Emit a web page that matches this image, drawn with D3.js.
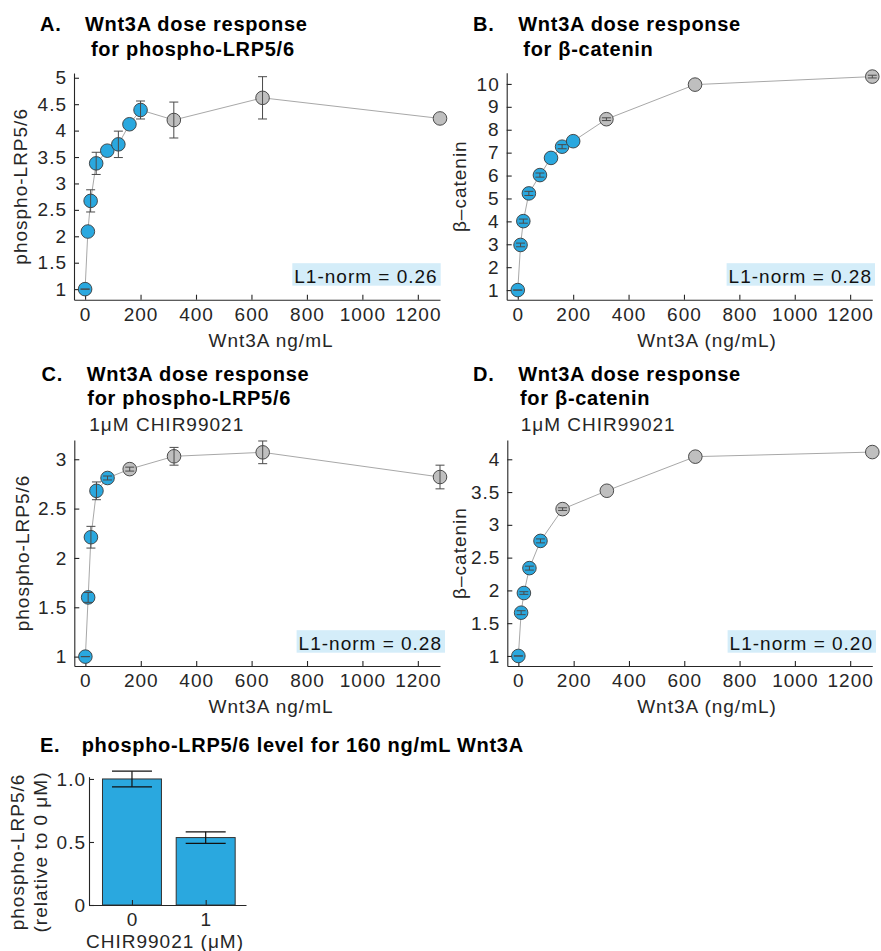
<!DOCTYPE html>
<html>
<head>
<meta charset="utf-8">
<script src="https://cdn.jsdelivr.net/npm/d3@7"></script>
<style>
  body { margin: 0; background: #fff; }
  svg { display: block; }
  text { font-family: "Liberation Sans", Arial, sans-serif; }
</style>
</head>
<body>
<svg id="fig" width="881" height="951"></svg>
<script>
// doses (ng/mL Wnt3A)
const doseFull = [0, 10, 20, 40, 80, 120, 160, 200, 320, 640, 1280];
const doseChir = [0, 10, 20, 40, 80, 160, 320, 640, 1280];

// A. phospho-LRP5/6, no inhibitor
const pLrp = [1.0, 2.09, 2.67, 3.38, 3.62, 3.74, 4.12, 4.39, 4.2, 4.62, 4.23];
const pLrpErr = [0, null, 0.21, 0.21, null, 0.25, null, 0.17, 0.34, 0.4, null];
// B. beta-catenin, no inhibitor
const bCat = [1.0, 2.97, 4.01, 5.22, 6.02, 6.77, 7.26, 7.5, 8.46, 9.97, 10.32];
const bCatErr = [0, 0.08, 0.09, 0.09, 0.09, null, 0.09, null, 0.06, null, 0.06];
// C. phospho-LRP5/6, 1uM CHIR99021
const pLrpChir = [1.0, 1.6, 2.21, 2.68, 2.81, 2.9, 3.03, 3.07, 2.82];
const pLrpChirErr = [0, 0.05, 0.11, 0.09, 0.02, 0.02, 0.09, 0.115, 0.12];
// D. beta-catenin, 1uM CHIR99021
const bCatChir = [1.0, 1.66, 1.96, 2.34, 2.755, 3.24, 3.52, 4.04, 4.11];
const bCatChirErr = [0, 0.03, 0.02, 0.03, 0.03, 0.02, null, null, null];

// last dose used for the fit (blue markers) in each panel
const fitCutoff = [200, 200, 80, 80];
const l1Norm = ["0.26", "0.28", "0.28", "0.20"];
const doseTicks = [0, 200, 400, 600, 800, 1000, 1200];

// E. bars
const chirConc = [0, 1];
const chirLevel = [1.0, 0.535];
const chirLevelErr = [0.062, 0.046];

const BLUE = "#2aa8df", GREY = "#bfbfbf", EDGE = "#3a3a3a", AX = "#262626";
const FONT = 19;

const svg = d3.select("#fig");

function title(lines, lx, letter, x0s, ys) {
  svg.append("text").attr("x", lx).attr("y", ys[0])
    .attr("font-size", 20).attr("font-weight", "bold")
    .style("letter-spacing", "0.7px").text(letter);
  lines.forEach((l, i) => {
    svg.append("text").attr("x", x0s[i]).attr("y", ys[i])
      .attr("font-size", l.bold ? 20 : FONT)
      .attr("font-weight", l.bold ? "bold" : "normal")
      .style("letter-spacing", l.bold ? "0.7px" : "1px")
      .attr("fill", l.bold ? "#000" : AX)
      .text(l.t);
  });
}

function styleAxis(g) {
  g.attr("font-size", FONT).attr("font-family", null);
  g.selectAll("path.domain").attr("stroke", AX).attr("stroke-width", 1.1);
  g.selectAll(".tick line").attr("stroke", AX).attr("stroke-width", 1.1);
  g.selectAll(".tick text").attr("fill", AX).style("letter-spacing", "1px");
}

function dosePanel(p) {
  const x = d3.scaleLinear().domain([-40, 1280]).range([p.left, p.right]);
  const y = d3.scaleLinear().domain(p.yDomain).range([p.bottom, p.top]);

  const gx = svg.append("g").attr("transform", `translate(0,${p.bottom})`)
    .call(d3.axisBottom(x).tickValues(doseTicks).tickFormat(d3.format("d"))
      .tickSizeInner(-5).tickSizeOuter(0).tickPadding(8));
  styleAxis(gx);
  const gy = svg.append("g").attr("transform", `translate(${p.left},0)`)
    .call(d3.axisLeft(y).tickValues(p.yTicks).tickFormat(d3.format(""))
      .tickSizeInner(-5).tickSizeOuter(0).tickPadding(7));
  styleAxis(gy);

  // labels
  svg.append("text").attr("x", p.xLabelX).attr("y", p.bottom + 47)
    .attr("text-anchor", "middle").attr("font-size", FONT).attr("fill", AX)
    .style("letter-spacing", "1px").text(p.xLabel);
  svg.append("text")
    .attr("transform", `translate(${p.yLabelX},${(p.top + p.bottom) / 2}) rotate(-90)`)
    .attr("text-anchor", "middle").attr("font-size", FONT).attr("fill", AX)
    .style("letter-spacing", "1px").text(p.yLabel);

  // L1-norm box
  const lg = svg.append("g");
  const lt = lg.append("text").attr("x", p.boxRight - 3).attr("y", p.boxBottom - 3)
    .attr("text-anchor", "end").attr("font-size", FONT).attr("fill", "#111")
    .style("letter-spacing", "1px").text("L1-norm = " + p.l1);
  const bb = lt.node().getBBox();
  lg.insert("rect", "text").attr("x", bb.x - 2).attr("y", p.boxBottom - 22.5)
    .attr("width", p.boxRight - bb.x + 2).attr("height", 22.5).attr("fill", "#d4edf9");

  const pts = p.dose.map((d, i) => ({ d, v: p.vals[i], e: p.errs[i] }));

  svg.append("path").datum(pts)
    .attr("d", d3.line().x(q => x(q.d)).y(q => y(q.v)))
    .attr("fill", "none").attr("stroke", "#a8a8a8").attr("stroke-width", 1);

  svg.append("g").selectAll("circle").data(pts).join("circle")
    .attr("cx", q => x(q.d)).attr("cy", q => y(q.v)).attr("r", 6.8)
    .attr("fill", q => q.d <= p.cutoff ? BLUE : GREY)
    .attr("stroke", EDGE).attr("stroke-width", 0.9);

  // error bars on top
  const eb = svg.append("g").attr("stroke", "#4a4a4a").attr("stroke-width", 1);
  pts.filter(q => q.e !== null).forEach(q => {
    const cx = x(q.d), y1 = y(q.v + q.e), y0 = y(q.v - q.e);
    eb.append("line").attr("x1", cx).attr("x2", cx).attr("y1", y1).attr("y2", y0);
    eb.append("line").attr("x1", cx - 4.5).attr("x2", cx + 4.5).attr("y1", y1).attr("y2", y1);
    eb.append("line").attr("x1", cx - 4.5).attr("x2", cx + 4.5).attr("y1", y0).attr("y2", y0);
  });
}

// ---- titles
title([{ t: "Wnt3A dose response", bold: true }, { t: "for phospho-LRP5/6", bold: true }],
  40, "A.", [85, 91], [31, 55.7]);
title([{ t: "Wnt3A dose response", bold: true }, { t: "for β-catenin", bold: true }],
  473, "B.", [518.3, 523.3], [31, 55.7]);
title([{ t: "Wnt3A dose response", bold: true }, { t: "for phospho-LRP5/6", bold: true }, { t: "1μM CHIR99021" }],
  41.5, "C.", [86.7, 87.3, 89.3], [380.7, 405, 430.7]);
title([{ t: "Wnt3A dose response", bold: true }, { t: "for β-catenin", bold: true }, { t: "1μM CHIR99021" }],
  473, "D.", [518.3, 520, 520.7], [380.7, 405, 430.7]);
title([{ t: "phospho-LRP5/6 level for 160 ng/mL Wnt3A", bold: true }], 40, "E.", [81.7], [751.7]);

// ---- panels A-D
dosePanel({
  left: 74, right: 440, top: 73, bottom: 299.7, yDomain: [0.8, 5.09],
  yTicks: d3.range(1, 5.01, 0.5), dose: doseFull, vals: pLrp, errs: pLrpErr,
  cutoff: fitCutoff[0], l1: l1Norm[0], boxRight: 440.7, boxBottom: 285.7,
  xLabel: "Wnt3A ng/mL", xLabelX: 271, yLabel: "phospho-LRP5/6", yLabelX: 27
});
dosePanel({
  left: 506.7, right: 872.3, top: 72.7, bottom: 299.7, yDomain: [0.58, 10.49],
  yTicks: d3.range(1, 10.01, 1), dose: doseFull, vals: bCat, errs: bCatErr,
  cutoff: fitCutoff[1], l1: l1Norm[1], boxRight: 875, boxBottom: 285.7,
  xLabel: "Wnt3A (ng/mL)", xLabelX: 707, yLabel: "β–catenin", yLabelX: 465.5
});
dosePanel({
  left: 74.3, right: 440, top: 440, bottom: 666, yDomain: [0.905, 3.195],
  yTicks: d3.range(1, 3.01, 0.5), dose: doseChir, vals: pLrpChir, errs: pLrpChirErr,
  cutoff: fitCutoff[2], l1: l1Norm[2], boxRight: 445, boxBottom: 652.7,
  xLabel: "Wnt3A ng/mL", xLabelX: 271, yLabel: "phospho-LRP5/6", yLabelX: 28.5
});
dosePanel({
  left: 507.3, right: 872.3, top: 440, bottom: 666, yDomain: [0.847, 4.294],
  yTicks: d3.range(1, 4.01, 0.5), dose: doseChir, vals: bCatChir, errs: bCatChirErr,
  cutoff: fitCutoff[3], l1: l1Norm[3], boxRight: 876, boxBottom: 652.7,
  xLabel: "Wnt3A (ng/mL)", xLabelX: 707, yLabel: "β–catenin", yLabelX: 465.5
});

// ---- panel E
(function () {
  const left = 89, right = 246, top = 776.7, bottom = 905;
  const x = d3.scaleLinear().domain([-0.583, 1.547]).range([left, right]);
  const y = d3.scaleLinear().domain([0, 1.018]).range([bottom, top]);

  svg.append("g").selectAll("rect").data(chirConc).join("rect")
    .attr("x", (c) => x(c - 0.4)).attr("width", x(0.4) - x(-0.4))
    .attr("y", (c, i) => y(chirLevel[i])).attr("height", (c, i) => bottom - y(chirLevel[i]))
    .attr("fill", BLUE).attr("stroke", "#333").attr("stroke-width", 1);

  const gx = svg.append("g").attr("transform", `translate(0,${bottom})`)
    .call(d3.axisBottom(x).tickValues(chirConc).tickFormat(d3.format("d"))
      .tickSizeInner(-5).tickSizeOuter(0).tickPadding(8));
  styleAxis(gx);
  const gy = svg.append("g").attr("transform", `translate(${left},0)`)
    .call(d3.axisLeft(y).tickValues([0, 0.5, 1]).tickFormat(v => v === 0 ? "0" : d3.format(".1f")(v))
      .tickSizeInner(-5).tickSizeOuter(0).tickPadding(3));
  styleAxis(gy);

  const eb = svg.append("g").attr("stroke", "#111").attr("stroke-width", 1.2);
  chirConc.forEach((c, i) => {
    const cx = x(c), y1 = y(chirLevel[i] + chirLevelErr[i]), y0 = y(chirLevel[i] - chirLevelErr[i]);
    eb.append("line").attr("x1", cx).attr("x2", cx).attr("y1", y1).attr("y2", y0);
    eb.append("line").attr("x1", cx - 20).attr("x2", cx + 20).attr("y1", y1).attr("y2", y1);
    eb.append("line").attr("x1", cx - 20).attr("x2", cx + 20).attr("y1", y0).attr("y2", y0);
  });

  svg.append("text").attr("x", 165).attr("y", 948)
    .attr("text-anchor", "middle").attr("font-size", FONT).attr("fill", AX)
    .style("letter-spacing", "1px").text("CHIR99021 (μM)");
  svg.append("text").attr("transform", "translate(24,852) rotate(-90)")
    .attr("text-anchor", "middle").attr("font-size", FONT).attr("fill", AX)
    .style("letter-spacing", "1px").text("phospho-LRP5/6");
  svg.append("text").attr("transform", "translate(47,852) rotate(-90)")
    .attr("text-anchor", "middle").attr("font-size", FONT).attr("fill", AX)
    .style("letter-spacing", "1px").text("(relative to 0 μM)");
})();
</script>
</body>
</html>
